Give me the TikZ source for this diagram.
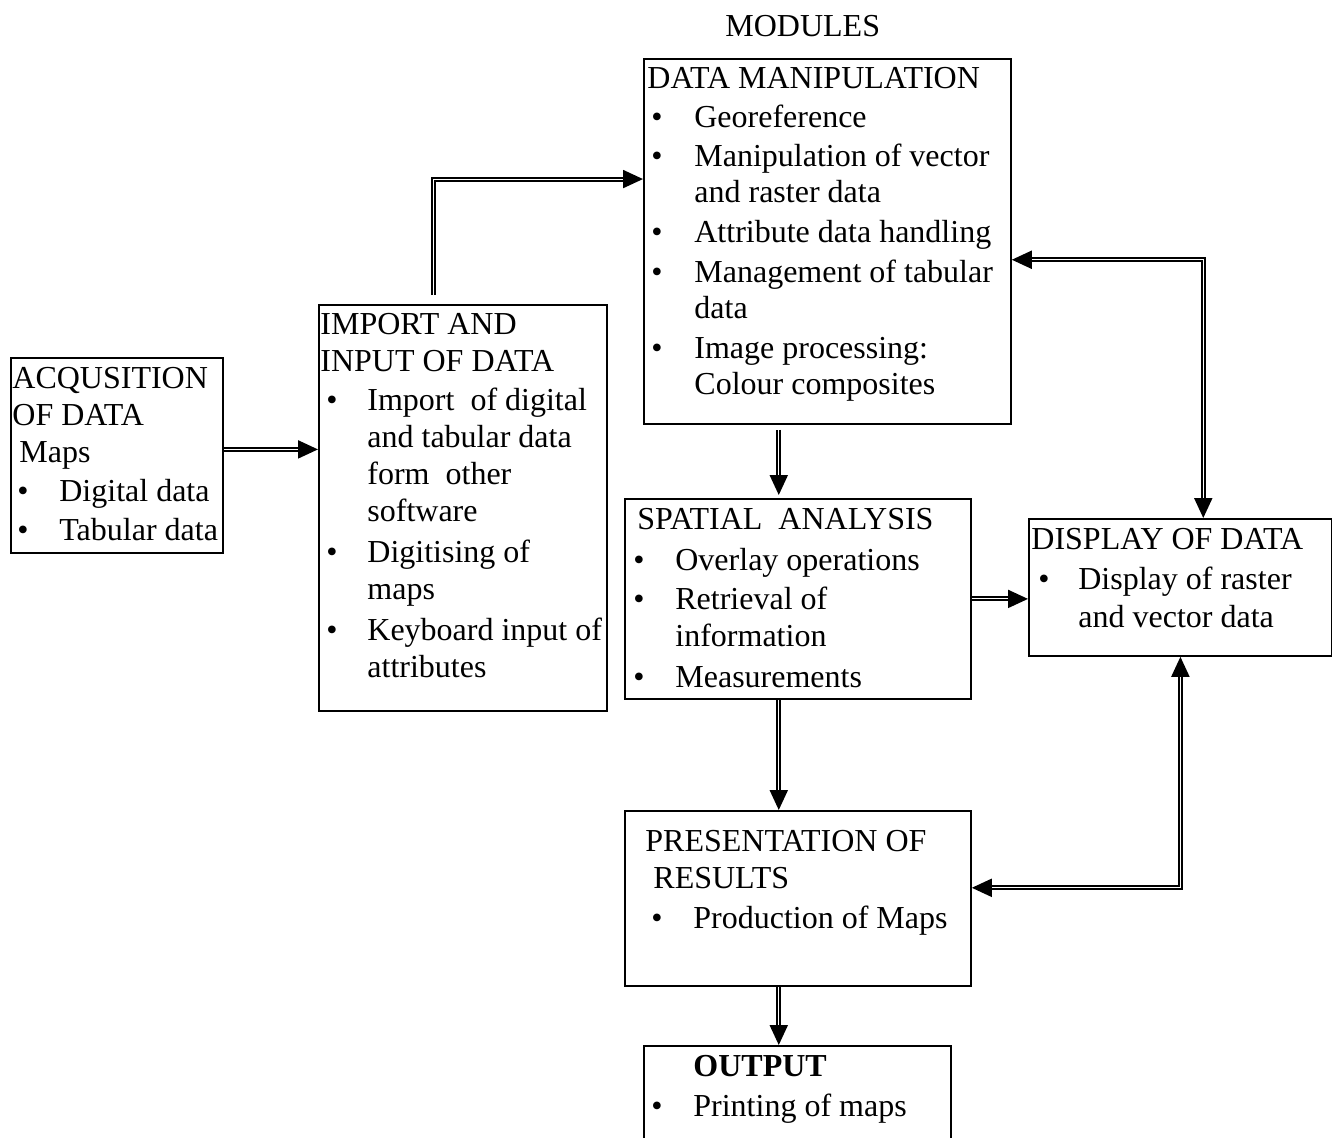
\documentclass[tikz,border=0pt]{standalone}
\usepackage{fontspec}
\setmainfont{Liberation Serif}
\usetikzlibrary{arrows.meta,calc}

\newcommand{\fs}{\fontsize{16}{18.5}\selectfont}
% bullet at #1, text starting at #2
\newcommand{\bx}[2]{\hspace*{#1}\rlap{\textbullet}\hspace*{\dimexpr#2-#1\relax}}
\newcommand{\ti}[1]{\hspace*{#1}}

\begin{document}
\begin{tikzpicture}[x=0.5pt,y=-0.5pt,
    box/.style={draw, line width=0.9pt, inner sep=0pt, anchor=north west},
    txt/.style={anchor=north west, inner sep=0pt, align=left, font=\fs},
    flow/.style={double, double distance=0.5pt, line width=1pt, ->},
    >={Triangle[length=10pt,width=9pt]}]
  \useasboundingbox (0,0) rectangle (1332,1137);

  % boxes
  \node[box, minimum width=106pt, minimum height=97.5pt] (acq) at (10,357) {};
  \node[box, minimum width=144pt, minimum height=203pt] (imp) at (318,304) {};
  \node[box, minimum width=183.5pt, minimum height=182.5pt] (dman) at (643,58) {};
  \node[box, minimum width=173pt, minimum height=100pt] (spat) at (624,498) {};
  \node[box, minimum width=151.5pt, minimum height=68.5pt] (disp) at (1028,518) {};
  \node[box, minimum width=173pt, minimum height=87.5pt] (pres) at (624,810) {};
  \node[box, minimum width=153.5pt, minimum height=70pt] (outp) at (643,1045) {};

  % texts (top = first baseline - strut height)
  \node[txt] (modtxt) at (725,10) {\strut MODULES};
  \node[txt] (acqtxt) at (12,362) {\strut ACQUSITION\\ OF DATA\\
    \ti{3.5pt}Maps\\[1pt]
    \bx{2.5pt}{23.5pt}Digital data\\[1pt]
    \bx{2.5pt}{23.5pt}Tabular data};
  \node[txt] (imptxt) at (320,308) {\strut IMPORT AND\\ INPUT OF DATA\\[1pt]
    \bx{3pt}{23.5pt}Import\ \ of digital\\
    \ti{23.5pt}and tabular data\\
    \ti{23.5pt}form\ \ other\\
    \ti{23.5pt}software\\[2pt]
    \bx{3pt}{23.5pt}Digitising of\\
    \ti{23.5pt}maps\\[2pt]
    \bx{3pt}{23.5pt}Keyboard input of\\
    \ti{23.5pt}attributes};
  \node[txt] (dmantxt) at (647,62) {\strut DATA MANIPULATION\\[1pt]
    \bx{2pt}{23.5pt}Georeference\\[1pt]
    \bx{2pt}{23.5pt}Manipulation of vector\\[-0.5pt]
    \ti{23.5pt}and raster data\\[1.5pt]
    \bx{2pt}{23.5pt}Attribute data handling\\[1.5pt]
    \bx{2pt}{23.5pt}Management of tabular\\[-0.5pt]
    \ti{23.5pt}data\\[1.5pt]
    \bx{2pt}{23.5pt}Image processing:\\[-0.5pt]
    \ti{23.5pt}Colour composites};
  \node[txt] (spattxt) at (637,503) {\strut SPATIAL\ \ ANALYSIS\\[2pt]
    \bx{-2pt}{19pt}Overlay operations\\[1pt]
    \bx{-2pt}{19pt}Retrieval of\\
    \ti{19pt}information\\[2pt]
    \bx{-2pt}{19pt}Measurements};
  \node[txt] (disptxt) at (1031,523) {\strut DISPLAY OF DATA\\[1.5pt]
    \bx{3.5pt}{23.5pt}Display of raster\\[0.5pt]
    \ti{23.5pt}and vector data};
  \node[txt] (prestxt) at (645,825) {\strut PRESENTATION OF\\
    \ti{4pt}RESULTS\\[1.5pt]
    \bx{3pt}{24pt}Production of Maps};
  \node[txt] (outptxt) at (693,1050) {\strut\textbf{OUTPUT}\\[1.5pt]
    \bx{-21pt}{0pt}Printing of maps};

  % connectors
  \coordinate (dmin) at ($(dman.north west)!0.33!(dman.south west)$);
  \coordinate (dmout) at ($(dman.north east)!0.55!(dman.south east)$);
  \coordinate (dispin) at ($(disp.north west)!0.575!(disp.north east)$);
  \coordinate (spin) at ($(spat.north west)!0.445!(spat.north east)$);
  \coordinate (presin) at ($(pres.north east)!0.44!(pres.south east)$);

  \draw[flow] ([yshift=3pt]acq.east) -- ([yshift=3pt]acq.east -| imp.west);
  \draw[flow, shorten <=4.5pt] ([xshift=-14.5pt]imp.north) |- (dmin);
  \draw[flow, <->] (dmout) -| (dispin);
  \draw[flow, shorten <=2.5pt, shorten >=1.5pt] (dman.south -| spin) -- (spin);
  \draw[flow] (spat.east) -- (spat.east -| disp.west);
  \draw[flow] (spat.south -| spin) -- (pres.north -| spin);
  \draw[flow, <->] (disp.south) |- (presin);
  \draw[flow] (pres.south -| spin) -- (outp.north -| spin);
\end{tikzpicture}
\end{document}
